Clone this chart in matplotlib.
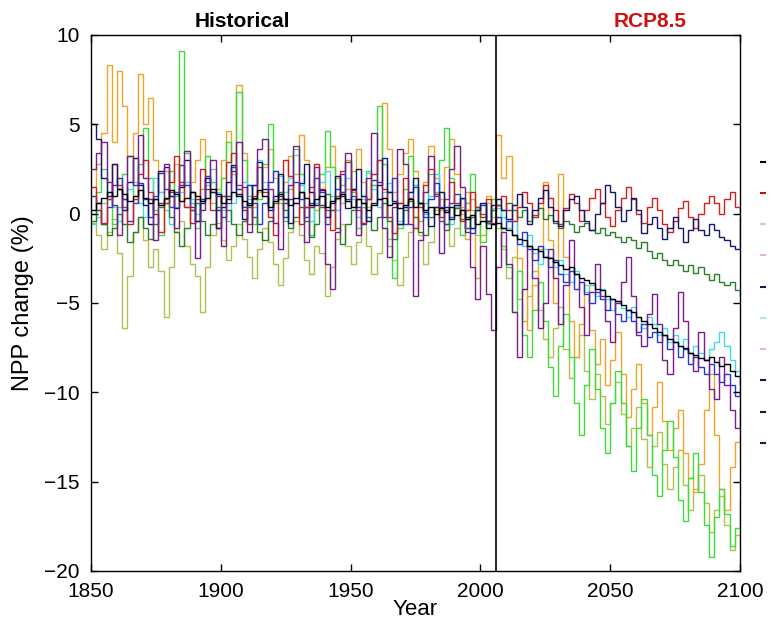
import numpy as np
import matplotlib
matplotlib.use("Agg")
import matplotlib.pyplot as plt
from matplotlib.lines import Line2D

plt.rcParams['font.family'] = ['Liberation Sans', 'DejaVu Sans']

# NPP change (%), one value per 2 years
# historical 1850..2004 (78 values), then RCP8.5 2006..2100 (48 values)
start_year = 1850
step = 2
split_year = 2006

olive = [
    -0.5, -1.2, -2.0, -1.0, -0.3, -2.2, -6.4, -3.5, -1.0, -0.2,
    -1.5, -3.0, -2.0, -3.2, -5.8, -3.0, -1.0, -0.4, -1.8, -2.8,
    -3.5, -5.5, -3.0, -1.2, -0.5, -1.5, -2.6, -1.8, -0.6, -1.4,
    -2.4, -3.6, -2.0, -0.8, -1.6, -2.8, -4.0, -2.5, -1.0, -0.4,
    -1.2, -2.6, -3.4, -1.8, -2.2, -4.6, -3.0, -1.4, -0.6, -1.8,
    -2.8, -1.6, -0.6, -1.8, -3.4, -2.2, -0.8, -1.4, -2.6, -4.0,
    -2.4, -1.0, -0.2, -1.2, -2.8, -1.6, 0.2, 0.8, -0.6, -1.8,
    -0.8, 0.4, 1.2, 0.2, -1.2, -0.4, 0.6, -0.2,
    -0.8, -2.0, -3.6, -2.4, -4.8, -6.0, -4.6, -3.2, -5.4, -7.0,
    -8.0, -6.4, -5.2, -7.6, -9.2, -8.0, -6.8, -8.8, -10.4, -9.0,
    -10.2, -11.8, -10.6, -9.4, -11.2, -13.0, -12.0, -10.8, -12.6, -14.2,
    -13.0, -12.2, -14.0, -15.4, -14.2, -13.2, -15.2, -16.6, -15.4, -14.6,
    -16.2, -17.8, -16.6, -15.8, -17.4, -18.8, -18.0, -18.6,
]

orange = [
    1.5, 2.8, 4.5, 8.3, 4.0, 8.0, 6.0, 3.2, 4.5, 7.8,
    5.0, 6.5, 3.0, 1.2, 2.4, 1.0, 2.8, 1.6, 0.4, 1.8,
    3.0, 4.2, 2.0, 0.6, 1.4, 3.0, 4.6, 2.2, 7.2, 3.4,
    1.6, 0.4, 1.2, 2.6, 3.6, 2.0, 0.8, 1.8, 3.2, 2.2,
    4.4, 3.0, 1.2, 0.2, 1.4, 2.6, 3.8, 2.0, 0.6, 1.4,
    2.4, 3.6, 1.8, 0.4, 1.6, 3.0, 6.2, 3.6, 1.2, 2.2,
    3.4, 4.2, 2.4, 0.6, 1.8, 3.8, 2.0, 0.2, 2.6, 4.2,
    2.2, 0.0, -1.4, 0.8, -3.6, -1.2, 1.0, 0.2,
    4.4, 2.0, 3.2, 0.5, -2.5, -4.2, -6.5, -4.0, -2.0, 1.8,
    -1.5, -5.0, 2.2, -2.4, -6.0, -8.0, -6.2, -4.0, -6.5, -8.4,
    -7.0, -9.6, -8.2, -6.6, -9.0, -11.4, -9.8, -8.4, -10.6, -12.4,
    -10.8, -9.4, -11.6, -13.2, -12.0, -11.0, -13.4, -14.8, -15.6, -14.0,
    -11.0, -9.0, -12.4, -15.4, -16.6, -14.2, -12.8, -12.4,
]

green = [
    0.0, 1.2, 2.5, 0.8, -0.6, 0.4, 2.2, 3.2, 1.0, 2.8,
    4.8, 2.0, 0.2, -1.2, 0.6, 2.4, 1.0, 9.1, 3.4, 0.6,
    -0.8, 1.4, 3.2, 1.8, 0.2, 2.0, 4.0, 2.6, 6.8, 3.0,
    1.0, -0.6, 0.8, 2.8, 5.0, 2.4, 0.6, -0.4, 1.4, 3.6,
    2.2, 0.4, -1.2, 0.6, 2.2, 4.6, 2.6, 0.8, 1.6, 3.0,
    1.2, -0.8, 0.4, 2.4, 1.6, 6.0, 2.8, -1.8, -3.6, -0.8,
    1.4, 3.2, 1.6, -0.4, 0.6, 2.2, 1.2, 3.0, 4.8, 2.0,
    0.4, -1.2, 0.6, 2.2, 0.4, -1.6, -0.4, 0.8,
    0.5, -1.8, -3.0, -5.5, -3.2, -6.8, -8.0, -5.4, -3.8, -6.0,
    -8.6, -10.2, -7.4, -5.6, -8.0, -10.6, -12.4, -9.6, -7.6, -9.8,
    -12.0, -13.4, -10.6, -8.8, -10.6, -13.0, -14.4, -12.0, -10.4, -12.4,
    -14.6, -15.8, -13.2, -11.6, -13.6, -16.0, -17.2, -14.8, -13.4, -15.6,
    -17.4, -19.2, -17.0, -15.4, -16.8, -18.6, -17.6, -16.0,
]

cyan = [
    -0.6, -0.2, 0.6, 1.2, 0.4, -0.4, 0.2, 1.4, 1.8, 0.6,
    -0.2, 0.8, 2.0, 1.2, 0.2, -0.6, 0.4, 1.2, 1.8, 0.8,
    0.0, 0.8, 1.6, 2.5, 1.2, 0.2, -0.4, 0.6, 1.4, 1.8,
    0.8, 1.6, 3.0, 1.8, 0.4, 0.8, 2.1, 1.2, 2.0, 3.3,
    1.6, 0.4, -0.4, 0.6, 1.8, 2.4, 1.0, 0.2, 1.2, 2.0,
    0.8, -0.2, 0.8, 2.3, 1.4, 0.4, 1.2, 1.7, 0.6, -0.4,
    0.4, 1.2, 1.6, 0.6, 0.0, 1.0, 2.2, 1.2, 0.2, -0.6,
    0.4, 0.8, -0.2, -0.8, 0.2, 0.6, -0.6, 0.3,
    0.3, -0.2, -0.8, -0.4, -1.4, -1.8, -1.2, -2.2, -2.8, -2.0,
    -2.4, -3.0, -2.6, -3.4, -3.8, -3.2, -3.8, -4.4, -4.0, -4.6,
    -4.2, -4.8, -5.4, -4.9, -5.3, -5.8, -5.2, -5.8, -6.4, -5.8,
    -6.2, -6.8, -6.4, -7.2, -6.8, -7.4, -7.0, -7.8, -7.4, -7.8,
    -8.2, -7.6, -7.2, -6.6, -7.4, -8.2, -8.8, -9.2,
]

blue = [
    1.0, 0.2, -0.6, 0.4, 1.6, 2.0, 0.8, -0.4, 0.6, 1.7,
    0.8, -0.2, 1.0, 2.3, 1.4, 0.4, 1.2, 2.7, 1.6, 0.2,
    -0.4, 0.8, 2.1, 1.2, 0.2, -0.2, 1.0, 2.6, 1.4, 0.4,
    1.6, 0.6, -0.6, 0.6, 1.8, 2.4, 1.0, -0.2, 0.8, 1.8,
    0.8, -0.2, 0.6, 2.0, 1.2, -0.6, 0.2, 1.4, 2.2, 0.8,
    1.4, 0.4, -0.6, 0.8, 1.9, 0.8, -0.2, 1.2, 2.0, 0.6,
    -0.6, 0.4, 1.5, 0.6, -0.2, 0.8, 1.7, 0.4, -0.6, 0.6,
    1.1, 0.2, -0.8, -1.1, 0.2, 0.5, -0.4, -0.6,
    -0.2, -0.8, -0.4, -1.2, -1.7, -1.0, -2.0, -2.6, -1.8, -2.4,
    -3.0, -2.6, -3.4, -3.8, -3.2, -4.2, -3.8, -4.5, -5.0, -4.4,
    -4.8, -5.4, -4.8, -5.6, -6.0, -5.4, -6.0, -6.6, -6.2, -6.9,
    -6.6, -7.2, -6.8, -7.6, -7.2, -8.0, -7.6, -8.4, -8.0, -8.6,
    -9.0, -8.4, -9.0, -9.4, -9.0, -9.6, -10.2, -9.8,
]

dark_green = [
    -0.4, 0.2, -0.6, -1.2, -0.8, 0.0, -0.6, -1.6, -1.0, -0.2,
    -0.8, -1.4, -0.6, 0.4, 0.8, -0.2, -1.0, -1.8, -0.8, 0.2,
    0.6, -0.4, -1.2, -0.6, 0.4, 1.0, 0.2, -0.6, -1.2, -0.4,
    0.4, -0.2, -1.0, -1.5, -0.4, 0.6, 1.2, 0.2, -0.8, -0.2,
    0.4, -0.4, -1.3, -0.6, 0.4, 1.1, 0.2, -0.8, -1.7, -0.6,
    0.2, 0.8, 1.0, -0.2, -0.9, -0.2, 0.6, -0.4, -1.4, -0.6,
    0.2, 0.7, -0.2, -1.0, -1.2, -0.2, 0.4, -0.4, -0.9, -0.2,
    0.3, -0.3, -0.8, -0.2, 0.4, 0.0, -0.5, 0.2,
    0.5, 0.2, 0.6, 0.2, -0.2, 0.2, -0.4, -0.1, 0.3, -0.3,
    -0.1, -0.5, -0.8, -0.4, -0.6, -1.0, -0.7, -0.5, -0.9, -1.1,
    -0.8, -1.2, -1.0, -1.3, -1.6, -1.3, -1.5, -1.9, -1.6, -2.1,
    -2.5, -2.2, -2.6, -2.9, -2.6, -2.9, -3.2, -2.9, -3.3, -3.0,
    -3.4, -3.7, -3.4, -3.8, -4.0, -3.8, -4.3, -4.6,
]

red = [
    1.5, 0.6, -0.5, 0.8, 2.8, 1.6, 0.4, -0.6, 0.8, 2.2,
    3.0, 1.2, 0.0, -1.0, 0.6, 1.8, 3.2, 1.8, 0.4, -0.5,
    0.8, 2.5, 1.4, 0.2, -0.8, 1.0, 2.9, 3.4, 1.6, 0.2,
    -0.6, 1.0, 2.6, 1.2, -0.2, -1.2, 0.8, 3.0, 2.1, 0.6,
    -0.6, 0.4, 1.5, 2.8, 1.4, 0.2, -0.9, 1.0, 2.4, 2.9,
    1.3, 0.2, -0.5, 0.8, 2.2, 3.0, 1.4, -0.2, -1.1, 0.6,
    2.0, 0.9, -0.8, 0.4, 1.6, 2.5, 1.1, -0.2, 0.8, 1.8,
    0.6, -0.4, 0.2, 1.2, 0.4, -0.2, 0.8, -0.5,
    0.5, 1.0, 0.2, -0.4, 0.4, 1.2, 0.6, -0.2, 0.6, 1.6,
    0.9, 0.2, -0.6, 0.3, 1.1, 0.6, -0.4, 0.2, 0.9, 1.4,
    0.6, -0.2, -0.7, 0.2, 0.9, 1.5, 0.8, 0.0, -0.5, 0.4,
    0.9, 0.2, -0.6, -1.0, -0.4, 0.3, 0.7, -0.2, -0.8, 0.0,
    0.6, 1.0, 0.6, 0.0, 0.8, 1.2, 0.4, -0.1,
]

navy = [
    5.0, 4.2, 2.0, 1.0, 2.8, 1.4, 0.2, 1.8, 3.1, 1.6,
    0.5, -0.6, 0.8, 2.4, 2.6, 1.0, 0.3, 1.5, 3.0, 1.2,
    -0.4, 0.6, 2.0, 1.2, -0.8, 0.4, 1.8, 2.7, 1.1, -0.3,
    0.6, 1.6, 2.9, 1.4, 0.2, 1.0, 2.2, 0.8, -0.5, 0.6,
    1.7, 2.8, 1.2, 0.5, 1.3, -0.2, 0.6, 2.1, 1.0, 0.3,
    1.4, 2.5, 1.0, -0.4, 0.6, 1.6, 3.1, 1.2, 0.7, -0.6,
    0.4, 1.2, 2.0, 0.6, 0.1, -0.7, 0.4, 1.2, 0.4, -0.3,
    0.5, 0.9, -0.2, -0.8, 0.2, 0.6, -0.4, 0.5,
    0.8, 0.2, -0.3, 0.5, 1.1, 0.4, -0.6, 0.2, 0.9, 1.3,
    0.4, -0.4, -0.7, 0.2, 0.8, 1.0, 0.2, -0.4, -0.9, 0.0,
    0.6, 1.6, 1.2, 0.4, -0.4, 0.2, 0.9, 0.2, -1.1, -0.6,
    -0.2, -0.8, -1.4, -0.8, -0.2, -0.8, -1.6, -0.9, -0.3, -0.9,
    -1.2, -0.6, -0.9, -1.3, -1.5, -1.8, -2.0, -0.2,
]

purple = [
    2.5, 3.4, 4.0, 1.8, 0.5, -1.2, 0.8, 3.2, 1.6, 4.4,
    2.0, 0.8, -1.5, 0.6, 2.8, 1.2, -0.8, 1.6, 3.5, 0.4,
    -2.5, 0.2, 1.8, 3.0, 1.0, -1.8, 0.6, 2.4, 4.0, 1.5,
    -1.0, 0.8, 3.6, 4.2, 1.4, -0.5, -2.0, 0.6, 1.6, 3.8,
    1.2, -1.6, 0.4, 2.6, 0.5, -2.8, -4.2, -1.0, 1.2, 3.4,
    1.0, -1.2, 0.6, 2.0, 4.5, 1.8, -0.8, -2.4, 0.4, 3.6,
    2.8, -0.6, -4.6, -1.5, 1.2, 3.2, 1.0, -2.2, 0.2, 2.5,
    3.8, 1.5, -1.0, -3.0, -4.8, -1.8, -4.5, -6.5,
    -3.0, -1.0, -2.8, -5.5, -8.0, -4.2, -1.8, -3.6, -6.4, -5.0,
    -2.0, -3.6, -6.2, -4.0, -1.5, -3.4, -5.2, -6.8, -4.4, -2.8,
    -4.6, -6.0, -7.2, -5.0, -3.8, -2.4, -4.6, -6.8, -7.4, -5.6,
    -4.5, -6.2, -8.2, -9.0, -6.4, -4.4, -6.0, -7.8, -8.8, -6.6,
    -8.2, -9.8, -10.4, -8.0, -9.6, -11.0, -12.0, -10.8,
]

black = [
    0.2, 0.6, 0.9, 1.2, 1.0, 1.4, 1.1, 0.7, 1.0, 1.3,
    0.9, 0.6, 0.8, 0.5, 0.9, 1.3, 1.1, 0.7, 0.9, 1.2,
    1.0, 0.7, 0.9, 1.4, 1.1, 0.6, 0.8, 1.2, 1.0, 0.7,
    0.5, 0.9, 1.3, 1.0, 0.4, 0.7, 1.1, 0.8, 0.5, 0.9,
    1.2, 0.9, 0.5, 0.8, 1.0, 0.4, 0.7, 0.9, 1.1, 0.7,
    0.4, 0.8, 0.6, 0.2, 0.5, 0.8, 0.9, 0.5, 0.6, 0.3,
    0.5, 0.8, 0.4, 0.6, 0.2, 0.4, 0.0, 0.3, 0.1, 0.4,
    -0.1, 0.2, -0.3, -0.1, -0.6, -0.4, -0.8, -0.6,
    -0.5, -0.8, -0.9, -1.2, -1.4, -1.5, -1.8, -2.0, -2.1, -2.4,
    -2.5, -2.7, -2.9, -3.1, -3.0, -3.4, -3.6, -3.7, -3.9, -4.2,
    -4.3, -4.6, -4.8, -4.9, -5.1, -5.4, -5.5, -5.8, -6.0, -6.2,
    -6.4, -6.6, -6.8, -7.0, -7.2, -7.4, -7.5, -7.8, -7.9, -8.1,
    -8.2, -8.0, -8.3, -8.5, -8.4, -8.8, -9.1, -9.6,
]

series = [
    (olive, '#b4bf52'),
    (orange, '#eca62a'),
    (green, '#3ddc3d'),
    (cyan, '#43d9e8'),
    (blue, '#2438d6'),
    (dark_green, '#2a7f2a'),
    (red, '#cc1f1f'),
    (navy, '#16166e'),
    (purple, '#7b1c8c'),
    (black, '#000000'),
]

legend_colors = ['#000000', '#b01818', '#a6dfe8', '#e6b4cc', '#1a1a50',
                 '#b0e4ec', '#e4b8cc', '#1a1a50', '#202020', '#1a1a50']

fig = plt.figure(figsize=(7.72, 6.25), dpi=100)
ax = fig.add_axes([91 / 772, 1 - 571 / 625, 649 / 772, 536 / 625])

for values, color in series:
    edges = start_year + step * np.arange(len(values) + 1)
    ax.stairs(values, edges, baseline=None, color=color, linewidth=1.0)

ax.axvline(split_year, color='black', linewidth=1.2)

ax.set_xlim(1850, 2100)
ax.set_ylim(-20, 10)
ax.set_xticks(np.arange(1850, 2101, 50))
ax.set_yticks(np.arange(-20, 11, 5))
ax.tick_params(direction='in', top=True, right=True, length=5, width=1,
               labelsize=15, pad=8)
for s in ax.spines.values():
    s.set_linewidth(1.0)

ax.set_xlabel('Year', fontsize=16)
ax.xaxis.set_label_coords(0.5, -0.052)
ax.set_ylabel('NPP change (%)', fontsize=17)
ax.yaxis.set_label_coords(-0.088, 0.5)

ax.text(0.234, 1.025, 'Historical', transform=ax.transAxes, ha='center',
        va='center', fontsize=15, fontweight='bold', color='black')
ax.text(0.861, 1.025, 'RCP8.5', transform=ax.transAxes, ha='center',
        va='center', fontsize=15, fontweight='bold', color='#d01010')

# legend box is cut off by the figure edge, only the line samples show
handles = [Line2D([], [], color=c, linewidth=1.5) for c in legend_colors]
fig.legend(handles, [' '] * len(handles), loc='upper left',
           bbox_to_anchor=(761 / 772, 1 - 155 / 625), frameon=False,
           handlelength=0.2, borderpad=0, borderaxespad=0,
           fontsize=14, labelspacing=0.7)

fig.savefig('out.png', dpi=100)
